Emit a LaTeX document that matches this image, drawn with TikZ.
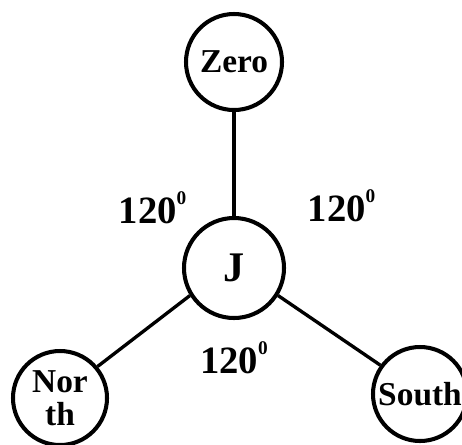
\documentclass[tikz,border=0pt]{standalone}
\usepackage{fontspec}
\setmainfont{Liberation Serif}

\newcommand{\degsup}{\raisebox{1.05ex}{\fontsize{11}{11}\selectfont 0}}

\begin{document}
\begin{tikzpicture}

\useasboundingbox (0,0) rectangle (9.24,-8.88);

\begin{scope}[every node/.style={circle,draw,line width=2.3pt,minimum size=1.92cm,inner sep=0pt,
    font=\fontsize{19}{19}\selectfont\bfseries,align=center}]
    \node (zero) at (4.68, -1.24) [fill=white] {Zero};
    \node (j) at (4.68, -5.36) [minimum size=2cm, font=\fontsize{24}{24}\selectfont\bfseries] {J};
    \node (north) at (1.2, -7.96) [minimum size=1.88cm] {Nor\\th};
    \node (south) at (8.4, -7.88) [minimum size=1.88cm] {South};
\end{scope}

\begin{scope}[every node/.style={font=\fontsize{22}{22}\selectfont\bfseries}]
    \node (aleft) at (3.05, -4.16) {120\degsup};
    \node (aright) at (6.83, -4.12) {120\degsup};
    \node (abottom) at (4.68, -7.16) {120\degsup};
\end{scope}

\begin{scope}[line width=1.9pt]
    \draw (zero) -- (j);
    \draw (j.212) -- (north.40);
    \draw (j.-32) -- (south.144);
\end{scope}
\end{tikzpicture}
\end{document}
